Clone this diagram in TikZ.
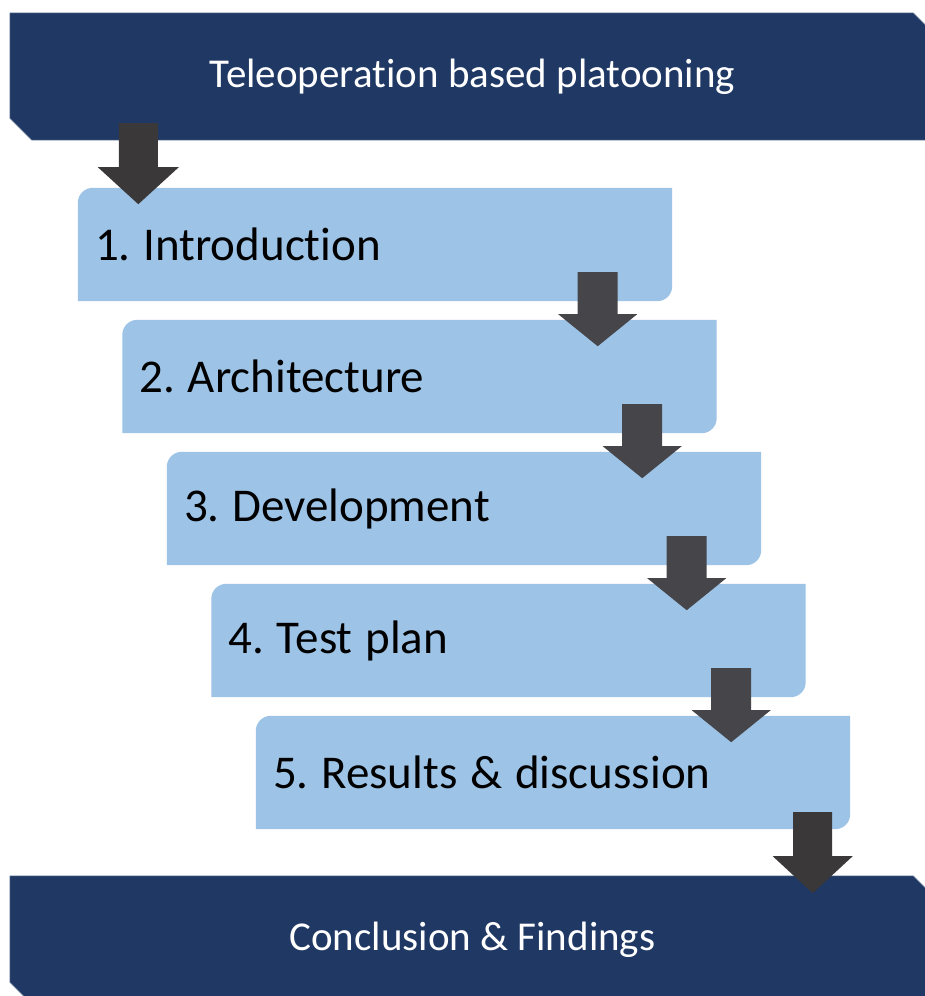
\documentclass[tikz,border=0pt]{standalone}
\usepackage{fontspec}
\setmainfont[Ligatures={NoCommon}]{Carlito}
\usetikzlibrary{calc}
\definecolor{bannerblue}{HTML}{1F3864}
\definecolor{bannerline}{HTML}{7F8FA9}
\definecolor{boxblue}{HTML}{9DC3E6}
\definecolor{arrowdark}{HTML}{3A3838}
\definecolor{arrowmid}{HTML}{46454A}
\pgfdeclarelayer{background}
\pgfsetlayers{background,main}
\frenchspacing
\tikzset{
  stepbox/.style={minimum width=594pt, minimum height=113pt, inner sep=0pt,
    text width=560pt, align=left, font=\fontsize{47}{56}\selectfont, text=black,
    execute at begin node={\spaceskip=12.8pt\relax}},
  bannerbox/.style={minimum width=925pt, minimum height=127pt, inner sep=0pt,
    font=\fontsize{41}{48}\selectfont, text=white},
  pics/darrow/.style n args={5}{code={
    \fill[#5] (-#1,0) -- (#1,0) -- (#1,#3) -- (#2,#3) -- (0,#3+#4) -- (-#2,#3) -- (-#1,#3) -- cycle;
  }}
}
\begin{document}
\begin{tikzpicture}[x=1pt,y=-1pt]
\useasboundingbox (0,0) rectangle (924,996);
\clip (0,0) rectangle (924,996);

% banners
\node[bannerbox] (top) at (472.5,76.5) {Teleoperation based platooning};
\node[bannerbox, minimum height=128pt] (bottom) at (472.5,940) {Conclusion \& Findings};

% step boxes
\foreach \k/\t in {0/{1. Introduction},1/{2. Architecture},2/{3. Development},3/{4. Test plan},4/{5. Results \& discussion}}{
  \pgfmathtruncatemacro{\n}{\k+1}
  \node[stepbox] (b\n) at ({375+44.5*\k},{244.5+132*\k}) {\t};
}

\begin{pgfonlayer}{background}
  \foreach \b in {top,bottom}{
    \fill[bannerblue, draw=bannerline, line width=0.5pt]
      (\b.north west) -- ($(\b.north east)+(-22,0)$) -- ($(\b.north east)+(0,22)$)
      -- (\b.south east) -- ($(\b.south west)+(22,0)$) -- ($(\b.south west)+(0,-22)$) -- cycle;
  }
  \foreach \n in {1,...,5}{
    \fill[boxblue] (b\n.west) [rounded corners=15pt] -- (b\n.north west) -- (b\n.north)
      [sharp corners] -- (b\n.north east) -- (b\n.east)
      [rounded corners=15pt] -- (b\n.south east) -- (b\n.south)
      [sharp corners] -- (b\n.south west) -- cycle;
  }
\end{pgfonlayer}

% block arrows
\coordinate (a1) at ($(top.south west)+(128.5,-17)$);
\pic at (a1) {darrow={19.5}{40.5}{44}{37}{arrowdark}};
\foreach \k in {1,...,4}{
  \pgfmathtruncatemacro{\m}{\k+1}
  \coordinate (a\m) at ($(b\k.south east)+(-74.5,-29)$);
  \pic at (a\m) {darrow={20}{39.5}{42}{32}{arrowmid}};
}
\coordinate (a6) at ($(b5.south east)+(-37.5,-17)$);
\pic at (a6) {darrow={19.5}{40}{44}{37}{arrowdark}};
\end{tikzpicture}
\end{document}
